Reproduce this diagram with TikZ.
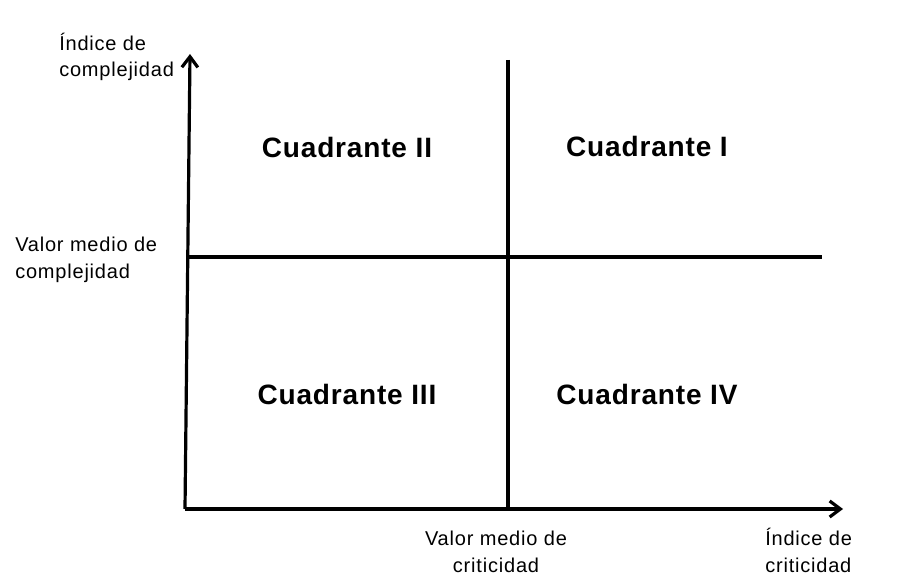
\documentclass[tikz,border=0pt]{standalone}
\usepackage{fontspec}
\setmainfont{Liberation Sans}
\usetikzlibrary{arrows.meta}
\newfontfamily\lblfont[LetterSpace=4]{Liberation Sans}
\newfontfamily\quadfont[LetterSpace=3]{Liberation Sans}
\begin{document}
\begin{tikzpicture}[x=0.75pt,y=-0.75pt,
  axisline/.style={line width=2.4pt,black},
  axisarrow/.style={axisline,-{Straight Barb[length=8pt,width=12pt,line width=2.4pt]}},
  lbl/.style={font=\lblfont\fontsize{15pt}{20.25pt}\selectfont,inner sep=0pt,text=black},
  quad/.style={font=\quadfont\fontsize{21pt}{25pt}\selectfont\bfseries,inner sep=0pt,anchor=base,text=black}]
\useasboundingbox (0,0) rectangle (903,585);
\fill[white] (0,0) rectangle (903,585);
% coordinates
\coordinate (O) at (185,509);
\coordinate (Ytip) at (190,54);
\coordinate (Xtip) at (843,509);
\coordinate (Vt) at (508,60);
\coordinate (Vb) at (508,509);
\coordinate (Hl) at (188,257);
\coordinate (Hr) at (822,257);
% lines
\draw[axisline] (Vt) -- (Vb);
\draw[axisline] (Hl) -- (Hr);
\draw[axisarrow] (O) -- (Ytip);
\draw[axisarrow] (O) -- (Xtip);
% quadrant labels
\node[quad] (q2) at (347,157) {Cuadrante II};
\node[quad] (q1) at (647,156) {Cuadrante I};
\node[quad] (q3) at (347,404) {Cuadrante III};
\node[quad] (q4) at (647,404) {Cuadrante IV};
% axis labels (anchor base = baseline of last line)
\node[lbl,anchor=base west,align=left] (yl) at (59,77) {Índice de\\complejidad};
\node[lbl,anchor=base west,align=left] (ym) at (15,278) {Valor medio de\\complejidad};
\node[lbl,anchor=base,align=center] (xm) at (496,572) {Valor medio de\\criticidad};
\node[lbl,anchor=base west,align=left] (xl) at (765,572) {Índice de\\criticidad};
\end{tikzpicture}
\end{document}
